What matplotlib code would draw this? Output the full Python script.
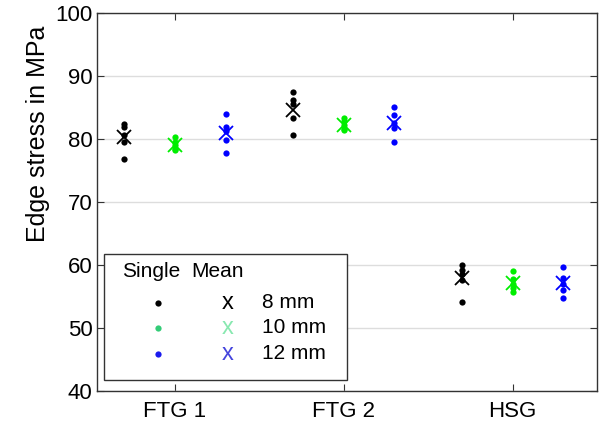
import matplotlib
matplotlib.use("Agg")
import matplotlib.pyplot as plt
from matplotlib.patches import Rectangle
import numpy as np

plt.rcParams['font.family'] = ['Liberation Sans', 'DejaVu Sans']

categories = ["FTG 1", "FTG 2", "HSG"]
thickness_labels = ["8 mm", "10 mm", "12 mm"]

# single values per category for each thickness
vals_8mm = [
    [82.4, 81.9, 80.6, 79.6, 76.8],
    [87.4, 86.2, 85.6, 83.4, 80.7],
    [60.0, 59.2, 58.6, 57.6, 54.2],
]
vals_10mm = [
    [80.3, 79.6, 79.0, 78.4, 78.2],
    [83.3, 82.9, 82.2, 81.6, 81.4],
    [59.0, 57.8, 57.0, 56.3, 55.7],
]
vals_12mm = [
    [83.9, 81.9, 81.3, 79.9, 77.8],
    [85.0, 83.8, 82.5, 81.7, 79.5],
    [59.7, 58.0, 57.0, 56.1, 54.8],
]

series = [vals_8mm, vals_10mm, vals_12mm]
point_colors = ["black", "#00ee00", "#0000ff"]
mean_colors = ["black", "#00ee00", "#0000ff"]
legend_dot_colors = ["black", "#33cc77", "#1a1aee"]
legend_x_colors = ["black", "#88e8b0", "#4444dd"]
offsets = [-0.3, 0.0, 0.3]

fig = plt.figure(figsize=(6, 4.33), dpi=100)
ax = fig.add_axes([0.162, 0.097, 0.833, 0.873])

for s, vals in enumerate(series):
    for c, v in enumerate(vals):
        xpos = c + 1 + offsets[s]
        ax.plot([xpos] * len(v), v, 'o', color=point_colors[s], ms=4.5, mec='none', zorder=3)
        ax.plot([xpos], [np.mean(v)], 'x', color=mean_colors[s], ms=10, mew=1.3, zorder=4)

ax.set_xlim(0.54, 3.5)
ax.set_ylim(40, 100)
ax.set_yticks(np.arange(40, 101, 10))
ax.set_xticks([1, 2, 3])
ax.set_xticklabels(categories)
ax.yaxis.grid(True, color='#dddddd', lw=1)
ax.set_axisbelow(True)
ax.tick_params(axis='both', direction='in', labelsize=16, length=5, color='#333333',
               right=True, top=True)
ax.tick_params(axis='x', pad=7)
for sp in ax.spines.values():
    sp.set_color('#333333')
    sp.set_linewidth(1.0)
ax.set_ylabel("Edge stress in MPa", fontsize=18, labelpad=5)
ax.yaxis.set_label_coords(-0.095, 0.68)

# custom legend
tr = ax.transAxes
ax.add_patch(Rectangle((0.014, 0.029), 0.486, 0.333, transform=tr, fill=True,
                       facecolor='white', edgecolor='#333333', lw=1.0, zorder=5))
ax.text(0.108, 0.317, "Single", transform=tr, ha='center', va='center', fontsize=15, zorder=6)
ax.text(0.24, 0.317, "Mean", transform=tr, ha='center', va='center', fontsize=15, zorder=6)
rows_y = [0.233, 0.167, 0.098]
for i, lab in enumerate(thickness_labels):
    ax.plot([0.122], [rows_y[i]], 'o', color=legend_dot_colors[i], ms=4.5, mec='none',
            transform=tr, zorder=6)
    ax.text(0.262, rows_y[i], "x", transform=tr, ha='center', va='center', fontsize=17,
            color=legend_x_colors[i], zorder=6)
    ax.text(0.33, rows_y[i], lab, transform=tr, ha='left', va='center', fontsize=15, zorder=6)

fig.savefig("out.png", dpi=100)
